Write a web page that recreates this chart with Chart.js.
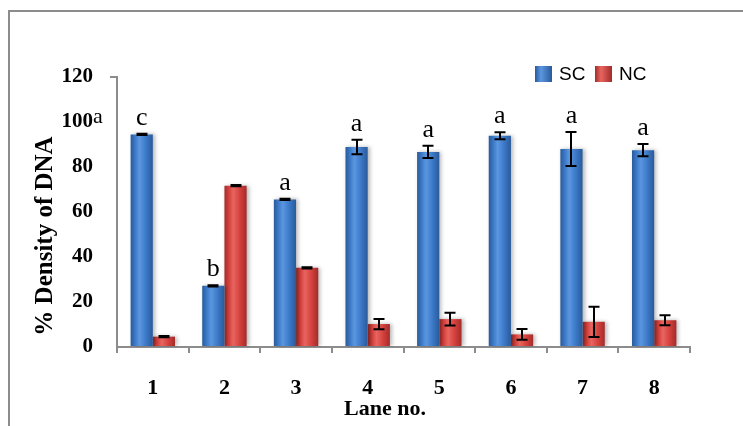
<!DOCTYPE html>
<html>
<head>
  <meta charset="UTF-8">
  <title>% Density of DNA</title>
  <script src="https://cdn.jsdelivr.net/npm/chart.js@4.4.4/dist/chart.umd.min.js"></script>
  <style>
    html, body { margin: 0; padding: 0; background: #fff; }
    #wrap { width: 743px; height: 426px; position: relative; }
  </style>
</head>
<body>
<div id="wrap">
  <canvas id="dnaChart" width="743" height="426"></canvas>
</div>

<script>
  const lanes = ['1', '2', '3', '4', '5', '6', '7', '8'];
  const scValues = [94.5, 27.2, 65.6, 88.9, 86.7, 93.9, 88.0, 87.5];
  const scErrors = [0.3, 0.3, 0.3, 3.2, 2.7, 1.6, 7.6, 2.7];
  const ncValues = [4.6, 71.7, 35.2, 10.2, 12.4, 5.6, 11.2, 11.9];
  const ncErrors = [0.3, 0.3, 0.3, 2.3, 2.8, 2.4, 6.7, 2.2];
  const sigLetters = ['c', 'b', 'a', 'a', 'a', 'a', 'a', 'a'];
  const yTicks = [0, 20, 40, 60, 80, 100, 120];

  const SERIF = '"Liberation Serif", "Times New Roman", serif';
  const SANS = '"Liberation Sans", Arial, sans-serif';

  // bar fill with a little horizontal shading, like the 3D-ish office bars
  function barFill(base, light, dark) {
    return function(ctx) {
      const chart = ctx.chart;
      const meta = chart.getDatasetMeta(ctx.datasetIndex);
      const bar = meta && meta.data[ctx.dataIndex];
      if (!bar || !isFinite(bar.x) || !bar.width) return base;
      const l = bar.x - bar.width / 2, r = bar.x + bar.width / 2;
      const g = chart.ctx.createLinearGradient(l, 0, r, 0);
      g.addColorStop(0, dark);
      g.addColorStop(0.2, base);
      g.addColorStop(0.4, light);
      g.addColorStop(0.7, base);
      g.addColorStop(1, dark);
      return g;
    };
  }

  const extras = {
    id: 'extras',
    beforeDraw(chart) {
      const c = chart.ctx;
      c.save();
      c.strokeStyle = '#8c8c8c';
      c.lineWidth = 2;
      c.beginPath();
      c.moveTo(9, 426);
      c.lineTo(9, 11);
      c.lineTo(743, 11);
      c.stroke();
      c.restore();
    },
    beforeDatasetsDraw(chart) {
      const c = chart.ctx;
      c.save();
      c.shadowColor = 'rgba(0,0,0,0.28)';
      c.shadowBlur = 4;
      c.shadowOffsetX = 2;
      c.shadowOffsetY = 0;
    },
    afterDatasetsDraw(chart) {
      const c = chart.ctx;
      c.restore();
      const y = chart.scales.y;
      const errs = [scErrors, ncErrors];
      const vals = [scValues, ncValues];
      c.save();
      // error bars
      c.strokeStyle = '#000';
      c.lineWidth = 2;
      [0, 1].forEach(d => {
        chart.getDatasetMeta(d).data.forEach((bar, i) => {
          const top = y.getPixelForValue(vals[d][i] + errs[d][i]);
          const bot = y.getPixelForValue(vals[d][i] - errs[d][i]);
          const x = Math.round(bar.x);
          c.beginPath();
          c.moveTo(x, top); c.lineTo(x, bot);
          c.moveTo(x - 5.5, top); c.lineTo(x + 5.5, top);
          c.moveTo(x - 5.5, bot); c.lineTo(x + 5.5, bot);
          c.stroke();
        });
      });
      // significance letters over the SC bars
      c.fillStyle = '#000';
      c.textAlign = 'center';
      c.textBaseline = 'alphabetic';
      c.font = '26px ' + SERIF;
      chart.getDatasetMeta(0).data.forEach((bar, i) => {
        const top = y.getPixelForValue(scValues[i] + scErrors[i]);
        c.fillText(sigLetters[i], bar.x, top - 9);
      });
      // stray superscript next to the 100 tick
      c.font = '22px ' + SERIF;
      c.textAlign = 'left';
      c.fillText('a', chart.chartArea.left - 24, y.getPixelForValue(100) + 1);

      // axis titles
      c.font = 'bold 25px ' + SERIF;
      c.textAlign = 'center';
      c.save();
      c.translate(52, 236);
      c.rotate(-Math.PI / 2);
      c.fillText('% Density of DNA', 0, 0);
      c.restore();
      c.font = 'bold 22px ' + SERIF;
      c.fillText('Lane no.', 385, 415);

      // legend
      const items = [
        { label: chart.data.datasets[0].label, base: '#3b78c6', light: '#5b97e0', dark: '#2a5a9a', x: 535 },
        { label: chart.data.datasets[1].label, base: '#d4403c', light: '#e86560', dark: '#a22c2a', x: 595 }
      ];
      c.textAlign = 'left';
      c.textBaseline = 'middle';
      c.font = '19px ' + SANS;
      items.forEach(it => {
        const g = c.createLinearGradient(it.x, 0, it.x + 17, 0);
        g.addColorStop(0, it.dark);
        g.addColorStop(0.35, it.light);
        g.addColorStop(1, it.dark);
        c.fillStyle = g;
        c.fillRect(it.x, 66, 17, 16);
        c.fillStyle = '#000';
        c.fillText(it.label, it.x + 24, 75);
      });
      c.restore();
    }
  };

  const chart = new Chart(document.getElementById('dnaChart'), {
    type: 'bar',
    data: {
      labels: lanes,
      datasets: [
        {
          label: 'SC',
          data: scValues,
          backgroundColor: barFill('#3b78c6', '#5b97e0', '#2a5a9a'),
          borderWidth: 0,
          categoryPercentage: 0.62,
          barPercentage: 1.0
        },
        {
          label: 'NC',
          data: ncValues,
          backgroundColor: barFill('#d4403c', '#e86560', '#a22c2a'),
          borderWidth: 0,
          categoryPercentage: 0.62,
          barPercentage: 1.0
        }
      ]
    },
    options: {
      responsive: false,
      animation: false,
      layout: { padding: { left: 0, right: 53, top: 77, bottom: 0 } },
      plugins: {
        legend: { display: false },
        tooltip: { enabled: false }
      },
      scales: {
        x: {
          grid: {
            offset: true,
            drawOnChartArea: false,
            drawTicks: true,
            tickLength: 6,
            color: '#8c8c8c',
            lineWidth: 2
          },
          border: { color: '#8c8c8c', width: 2 },
          ticks: {
            color: '#000',
            padding: 22,
            font: { family: SERIF, size: 22, weight: 'bold' }
          },
          afterFit: s => { s.height = 79; }
        },
        y: {
          min: 0,
          max: 120,
          afterBuildTicks: s => { s.ticks = yTicks.map(v => ({ value: v })); },
          grid: {
            drawOnChartArea: false,
            drawTicks: true,
            tickLength: 7,
            lineWidth: 2,
            color: ctx => (ctx.tick && ctx.tick.value === 120) ? '#8c8c8c' : 'rgba(0,0,0,0)'
          },
          border: { color: '#8c8c8c', width: 2 },
          ticks: {
            color: '#000',
            padding: 17,
            font: { family: SERIF, size: 21, weight: 'bold' }
          },
          afterFit: s => { s.width = 117; }
        }
      }
    },
    plugins: [extras]
  });
  // second pass so the shaded fills know where each bar sits
  chart.update('none');
</script>
</body>
</html>
